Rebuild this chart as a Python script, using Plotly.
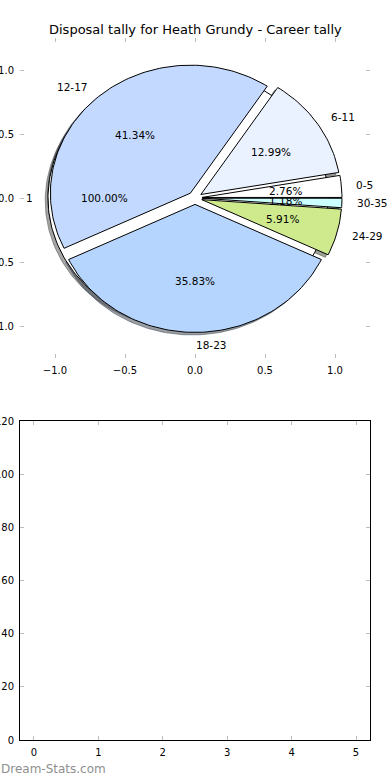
import numpy as np
import plotly.graph_objects as go

# ---------------- data ----------------
title_text = "Disposal tally for Heath Grundy - Career tally"
categories = ["0-5", "6-11", "12-17", "18-23", "24-29", "30-35"]
counts = [7, 33, 105, 91, 15, 3]
slice_colors = ["#FFFFFF", "#EAF1FF", "#C4D9FF", "#B5D5FF", "#CEEA8C", "#CCFFFF"]
base_labels = ["1"]
base_values = [1]
base_colors = ["#FFFFFF"]
explode = 0.05
shadow_offset = -0.02
pie_ticks = [-1.0, -0.5, 0.0, 0.5, 1.0]
bar_x_ticks = [0, 1, 2, 3, 4, 5]
bar_y_ticks = [0, 20, 40, 60, 80, 100, 120]
watermark = "Dream-Stats.com"

FONT = "DejaVu Sans"
TICK_GREY = "#bdbdbd"
PIE_FS = 10.5


def hex_rgb(h):
    h = h.lstrip("#")
    return tuple(int(h[i:i + 2], 16) for i in (0, 2, 4))


def wedge(cx, cy, t1, t2, r=1.0, n=240):
    ang = np.radians(np.linspace(t1, t2, max(8, int(n * (t2 - t1) / 360) + 2)))
    xs = cx + r * np.cos(ang)
    ys = cy + r * np.sin(ang)
    if (t2 - t1) >= 359.999:
        return list(xs), list(ys)
    return [cx] + list(xs) + [cx], [cy] + list(ys) + [cy]


def pie_geometry(values):
    total = float(sum(values))
    out = []
    t = 0.0
    for v in values:
        frac = v / total
        t1, t2 = t * 360.0, (t + frac) * 360.0
        mid = np.radians((t1 + t2) / 2.0)
        out.append((t1, t2, mid, frac))
        t += frac
    return out


fig = go.Figure()

base_geo = pie_geometry(base_values)
main_geo = pie_geometry(counts)

# shadows first (matplotlib zorder 0.9)
for (t1, t2, mid, frac), col in list(zip(base_geo, base_colors)) + list(zip(main_geo, slice_colors)):
    cx = explode * np.cos(mid) + shadow_offset
    cy = explode * np.sin(mid) + shadow_offset
    xs, ys = wedge(cx, cy, t1, t2)
    r, g, b = hex_rgb(col)
    sc = "rgba(%d,%d,%d,0.5)" % (0.3 * r, 0.3 * g, 0.3 * b)
    fig.add_trace(go.Scatter(x=xs, y=ys, mode="lines", fill="toself", fillcolor=sc,
                             line=dict(color=sc, width=1), hoverinfo="skip",
                             showlegend=False, xaxis="x", yaxis="y"))

# wedges
for (t1, t2, mid, frac), col, lab in list(zip(base_geo, base_colors, base_labels)) + list(zip(main_geo, slice_colors, categories)):
    cx = explode * np.cos(mid)
    cy = explode * np.sin(mid)
    xs, ys = wedge(cx, cy, t1, t2)
    fig.add_trace(go.Scatter(x=xs, y=ys, mode="lines", fill="toself", fillcolor=col,
                             line=dict(color="black", width=1), name=lab,
                             showlegend=False, xaxis="x", yaxis="y"))

annotations = []
for (t1, t2, mid, frac), lab in list(zip(base_geo, base_labels)) + list(zip(main_geo, categories)):
    cx = explode * np.cos(mid)
    cy = explode * np.sin(mid)
    lx = cx + 1.1 * np.cos(mid)
    ly = cy + 1.1 * np.sin(mid)
    annotations.append(dict(x=lx, y=ly, xref="x", yref="y", text=lab, showarrow=False,
                            xanchor="left" if np.cos(mid) > -1e-9 else "right", yanchor="middle",
                            borderpad=0,
                            font=dict(family=FONT, size=PIE_FS, color="black")))
    px_ = cx + 0.6 * np.cos(mid)
    py_ = cy + 0.6 * np.sin(mid)
    annotations.append(dict(x=px_, y=py_, xref="x", yref="y", text="%.2f%%" % (frac * 100),
                            showarrow=False, xanchor="center", yanchor="middle", borderpad=0,
                            font=dict(family=FONT, size=PIE_FS, color="black")))

# empty lower axes
fig.add_trace(go.Scatter(x=[], y=[], xaxis="x2", yaxis="y2", showlegend=False))

annotations.append(dict(x=0.5, y=1 - 30 / 780, xref="paper", yref="paper", text=title_text,
                        showarrow=False, xanchor="center", yanchor="middle",
                        font=dict(family=FONT, size=13, color="black")))
annotations.append(dict(x=-20 / 350, y=1 - 769 / 780, xref="paper", yref="paper", text=watermark,
                        showarrow=False, xanchor="left", yanchor="middle", borderpad=0,
                        font=dict(family=FONT, size=12, color="#8f8f8f")))

common = dict(ticks="inside", ticklen=4, tickwidth=1, tickcolor=TICK_GREY, showgrid=False,
              zeroline=False, tickfont=dict(family=FONT, size=10, color="black"),
              automargin=False, fixedrange=True, ticklabelstandoff=3)

fig.update_layout(
    width=390, height=780,
    margin=dict(l=20, r=20, t=0, b=0),
    paper_bgcolor="white", plot_bgcolor="white",
    xaxis=dict(domain=[0, 1], anchor="y", range=[-1.25, 1.25], tickvals=pie_ticks, tickformat=".1f",
               showline=True, linecolor="rgba(0,0,0,0)", mirror="ticks", **common),
    yaxis=dict(domain=[1 - 358 / 780, 1 - 38 / 780], anchor="x", range=[-1.25, 1.25], tickvals=pie_ticks,
               tickformat=".1f", showline=True, linecolor="rgba(0,0,0,0)", mirror="ticks", **common),
    xaxis2=dict(domain=[0, 1], anchor="y2", range=[-0.217, 5.217], tickvals=bar_x_ticks,
                showline=True, linecolor="black", linewidth=1, mirror="ticks", **common),
    yaxis2=dict(domain=[1 - 740 / 780, 1 - 421 / 780], anchor="x2", range=[0, 120], tickvals=bar_y_ticks,
                showline=True, linecolor="black", linewidth=1, mirror="ticks", **common),
    annotations=annotations,
    font=dict(family=FONT),
)

fig.write_html("out.html", config={"displayModeBar": False},
               post_script="document.body.style.margin='0';document.body.style.overflow='hidden';")
